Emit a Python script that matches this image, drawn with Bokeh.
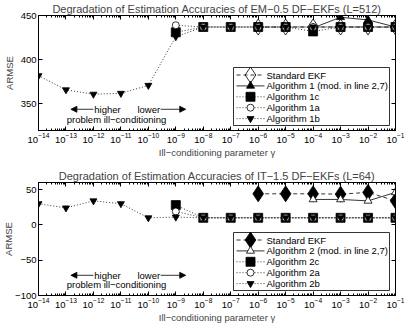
from bokeh.plotting import figure
from bokeh.layouts import column
from bokeh.models import (Range1d, LinearScale, LinearAxis, FixedTicker,
                          Arrow, NormalHead, Label, CustomJSTickFormatter)
from bokeh.core.properties import value
from bokeh.embed import file_html
from bokeh.resources import INLINE

FONT = "Liberation Sans"

# ---------------- data ----------------
gamma = [1e-14, 1e-13, 1e-12, 1e-11, 1e-10, 1e-9, 1e-8,
         1e-7, 1e-6, 1e-5, 1e-4, 1e-3, 1e-2, 1e-1]
gamma_ekf = [1e-6, 1e-5, 1e-4, 1e-3, 1e-2, 1e-1]
gamma_alg = [1e-4, 1e-3, 1e-2, 1e-1]
gamma_sub = [1e-9, 1e-8, 1e-7, 1e-6, 1e-5, 1e-4, 1e-3, 1e-2, 1e-1]

# EM-0.5 DF-EKFs (L=512)
em_ekf = [437, 437, 437, 437, 437, 437]
em_alg1 = [436, 448, 445, 437]
em_alg1c = [431, 437, 437, 437, 437, 432, 437, 437, 437]
em_alg1a = [439, 437, 437, 437, 437, 437, 437, 437, 437]
em_alg1b = [382, 366, 361, 362, 371, 426, 437, 437, 437, 437, 437, 437, 437, 437]

# IT-1.5 DF-EKFs (L=64)
it_ekf = [44, 44, 44, 43.5, 46, 34]
it_alg2 = [36, 36, 34, 46]
it_alg2c = [28, 10, 10, 10, 10, 10, 10, 10, 10]
it_alg2a = [19, 10, 10, 10, 10, 10, 10, 10, 10]
it_alg2b = [30, 24, 34, 30, 10, 11, 10, 10, 10, 10, 10, 10, 10, 10]

x_ticks = gamma
x_minor = [m * 10.0 ** k for k in range(-14, -1) for m in range(2, 10)]

top_title = "Degradation of Estimation Accuracies of EM\u22120.5 DF\u2212EKFs (L=512)"
bot_title = "Degradation of Estimation Accuracies of IT\u22121.5 DF\u2212EKFs (L=64)"
x_label = "Ill\u2212conditioning parameter \u03b3"
y_label = "ARMSE"

top_labels = ["Standard EKF", "Algorithm 1 (mod. in line 2,7)",
              "Algorithm 1c", "Algorithm 1a", "Algorithm 1b"]
bot_labels = ["Standard EKF", "Algorithm 2 (mod. in line 2,7)",
              "Algorithm 2c", "Algorithm 2a", "Algorithm 2b"]

top_yticks = [350, 400, 450]
bot_yticks = [-100, -50, 0, 50]
bot_ytick_labels = {-100: "\u2212100", -50: "\u221250", 0: "0", 50: "50"}

FW = 357


def style_axis(ax, show_labels=True):
    ax.major_tick_in = 4
    ax.major_tick_out = 0
    ax.minor_tick_in = 2
    ax.minor_tick_out = 0
    ax.axis_line_color = "black"
    ax.major_tick_line_color = "black"
    ax.minor_tick_line_color = "black"
    ax.major_label_text_font = FONT
    ax.major_label_text_font_size = "9.5px"
    ax.major_label_text_color = "black"
    ax.major_label_standoff = 2
    if not show_labels:
        ax.formatter = CustomJSTickFormatter(code="return ''")
        ax.major_label_standoff = 0


def make_panel(title, ylo, yhi, yticks, series, labels, annot_y, fh,
               top_b, bot_b, lab_standoff, overrides=None):
    p = figure(x_axis_type="log", x_range=Range1d(1e-14, 1e-1),
               y_range=Range1d(ylo, yhi),
               frame_width=FW, frame_height=fh,
               min_border_left=32, min_border_right=10,
               min_border_top=top_b, min_border_bottom=bot_b,
               output_backend="svg", toolbar_location=None,
               extra_x_ranges={"lx": Range1d(0, FW)},
               extra_y_ranges={"ly": Range1d(0, fh)},
               extra_x_scales={"lx": LinearScale()})
    p.xgrid.visible = False
    p.ygrid.visible = False
    p.outline_line_color = "black"
    p.outline_line_width = 1
    p.background_fill_color = "white"
    p.border_fill_color = "white"

    p.title.text = title
    p.title.text_font = FONT
    p.title.text_font_size = "11px"
    p.title.text_font_style = "normal"
    p.title.align = "center"
    p.title.standoff = 1

    xa = p.xaxis[0]
    xa.ticker = FixedTicker(ticks=x_ticks, minor_ticks=x_minor)
    style_axis(xa)
    xa.axis_label = x_label
    xa.axis_label_text_font = FONT
    xa.axis_label_text_font_size = "9.5px"
    xa.axis_label_text_font_style = "normal"
    xa.axis_label_standoff = 1

    ya = p.yaxis[0]
    ya.ticker = FixedTicker(ticks=yticks)
    style_axis(ya)
    if overrides:
        ya.major_label_overrides = overrides
    ya.axis_label = y_label
    ya.axis_label_text_font = FONT
    ya.axis_label_text_font_size = "9.5px"
    ya.axis_label_text_font_style = "normal"
    ya.axis_label_standoff = lab_standoff

    top_ax = LinearAxis(ticker=FixedTicker(ticks=x_ticks, minor_ticks=x_minor))
    style_axis(top_ax, False)
    p.add_layout(top_ax, "above")
    right_ax = LinearAxis(ticker=FixedTicker(ticks=yticks))
    style_axis(right_ax, False)
    p.add_layout(right_ax, "right")

    for s in series:
        p.line(s["x"], s["y"], line_color="black", line_width=0.8,
               line_dash=s["dash"])
        p.scatter(s["x"], s["y"], marker=s["marker"], size=s["size"],
                  line_color="black", fill_color=s["fill"], line_width=0.8)

    # annotations: "higher / lower problem ill-conditioning"
    ya_, yb_ = annot_y
    head = dict(size=6, fill_color="black", line_color="black", line_width=0.8)
    p.add_layout(Arrow(end=NormalHead(**head), x_start=10 ** -12.0, y_start=ya_,
                       x_end=10 ** -12.82, y_end=ya_, line_width=0.8,
                       line_color="black"))
    p.add_layout(Arrow(end=NormalHead(**head), x_start=10 ** -9.55, y_start=ya_,
                       x_end=10 ** -8.64, y_end=ya_, line_width=0.8,
                       line_color="black"))
    lab = dict(text_font=FONT, text_font_size="9.5px", text_baseline="middle",
               text_color="black")
    p.add_layout(Label(x=10 ** -11.97, y=ya_, text="higher", text_align="left", **lab))
    p.add_layout(Label(x=10 ** -9.57, y=ya_, text="lower", text_align="right", **lab))
    p.add_layout(Label(x=10 ** -11.16, y=yb_, text="problem ill\u2212conditioning",
                       text_align="center", **lab))

    # legend (drawn in frame pixel coordinates)
    box_r = FW - 6
    box_l = box_r - 156
    box_b = 5
    box_t = 63
    p.quad(left=[box_l], right=[box_r], bottom=[box_b], top=[box_t],
           fill_color="white", line_color="black", line_width=0.8,
           x_range_name="lx", y_range_name="ly")
    for i, (s, text) in enumerate(zip(series, labels)):
        yy = box_t - 7.5 - 10.9 * i
        p.line([box_l + 3, box_l + 31], [yy, yy], line_color="black",
               line_width=0.8, line_dash=s["dash"],
               x_range_name="lx", y_range_name="ly")
        p.scatter([box_l + 17], [yy], marker=s["marker"], size=s["size"],
                  line_color="black", fill_color=s["fill"], line_width=0.8,
                  x_range_name="lx", y_range_name="ly")
        p.text([box_l + 33], [yy], text=[text], text_font=value(FONT),
               text_font_size="9.5px", text_baseline="middle", text_color="black",
               x_range_name="lx", y_range_name="ly")
    return p


top_series = [
    dict(x=gamma_ekf, y=em_ekf, marker="diamond", size=16, fill=None, dash="4 3"),
    dict(x=gamma_alg, y=em_alg1, marker="triangle", size=8, fill="black", dash="solid"),
    dict(x=gamma_sub, y=em_alg1c, marker="square", size=9, fill="black", dash="1 2"),
    dict(x=gamma_sub, y=em_alg1a, marker="circle", size=7, fill="white", dash="1 2"),
    dict(x=gamma, y=em_alg1b, marker="inverted_triangle", size=7, fill="black", dash="1 2"),
]
bot_series = [
    dict(x=gamma_ekf, y=it_ekf, marker="diamond", size=16, fill="black", dash="4 3"),
    dict(x=gamma_alg, y=it_alg2, marker="triangle", size=8, fill="white", dash="solid"),
    dict(x=gamma_sub, y=it_alg2c, marker="square", size=9, fill="black", dash="1 2"),
    dict(x=gamma_sub, y=it_alg2a, marker="circle", size=7, fill="white", dash="1 2"),
    dict(x=gamma, y=it_alg2b, marker="inverted_triangle", size=7, fill="black", dash="1 2"),
]

p1 = make_panel(top_title, 320, 450, top_yticks, top_series, top_labels,
                (344, 332), 115, 15, 27, 3)
p2 = make_panel(bot_title, -100, 60, bot_yticks, bot_series, bot_labels,
                (-71.4, -85), 113, 22, 25, -2, bot_ytick_labels)

layout = column(p1, p2, spacing=0)
open("out.html", "w").write(file_html(layout, INLINE))
